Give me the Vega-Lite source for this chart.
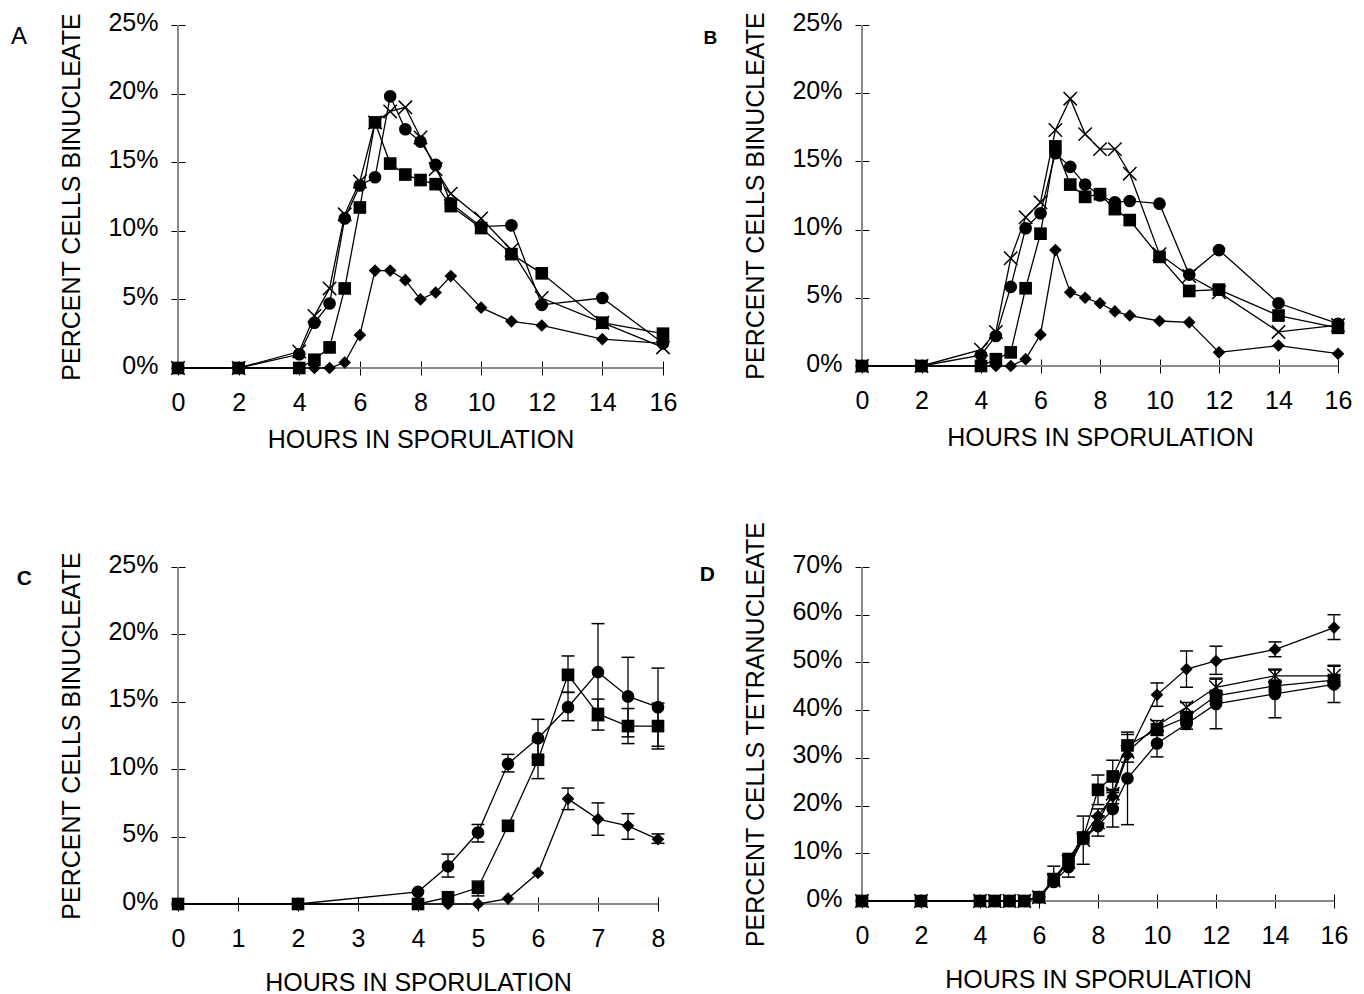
{
  "$schema": "https://vega.github.io/schema/vega-lite/v6.json",
  "padding": {"left": 10, "top": 10, "right": 5, "bottom": 5},
  "background": "white",
  "config": {
    "view": {"stroke": null},
    "font": "Liberation Sans",
    "axis": {"grid": false, "domain": false, "labelFont": "Liberation Sans", "titleFont": "Liberation Sans", "labelFontSize": 25, "titleFontSize": 25, "titleFontWeight": "normal", "labelColor": "black", "titleColor": "black", "tickColor": "black", "tickWidth": 1, "labelFlush": false, "labelOverlap": false},
    "title": {"font": "Liberation Sans", "color": "black"}
  },
  "data": {"values": [
    {"p":"A","s":"circle","t":0,"v":0},{"p":"A","s":"circle","t":2,"v":0},{"p":"A","s":"circle","t":4,"v":1.0},{"p":"A","s":"circle","t":4.5,"v":3.3},{"p":"A","s":"circle","t":5,"v":4.7},{"p":"A","s":"circle","t":5.5,"v":10.9},{"p":"A","s":"circle","t":6,"v":13.3},{"p":"A","s":"circle","t":6.5,"v":13.9},{"p":"A","s":"circle","t":7,"v":19.8},{"p":"A","s":"circle","t":7.5,"v":17.4},{"p":"A","s":"circle","t":8,"v":16.5},{"p":"A","s":"circle","t":8.5,"v":14.8},{"p":"A","s":"circle","t":9,"v":12.0},{"p":"A","s":"circle","t":10,"v":10.3},{"p":"A","s":"circle","t":11,"v":10.4},{"p":"A","s":"circle","t":12,"v":4.6},{"p":"A","s":"circle","t":14,"v":5.1},{"p":"A","s":"circle","t":16,"v":1.8},
    {"p":"A","s":"square","t":0,"v":0},{"p":"A","s":"square","t":2,"v":0},{"p":"A","s":"square","t":4,"v":0},{"p":"A","s":"square","t":4.5,"v":0.6},{"p":"A","s":"square","t":5,"v":1.5},{"p":"A","s":"square","t":5.5,"v":5.8},{"p":"A","s":"square","t":6,"v":11.7},{"p":"A","s":"square","t":6.5,"v":17.9},{"p":"A","s":"square","t":7,"v":14.9},{"p":"A","s":"square","t":7.5,"v":14.1},{"p":"A","s":"square","t":8,"v":13.7},{"p":"A","s":"square","t":8.5,"v":13.4},{"p":"A","s":"square","t":9,"v":11.8},{"p":"A","s":"square","t":10,"v":10.2},{"p":"A","s":"square","t":11,"v":8.3},{"p":"A","s":"square","t":12,"v":6.9},{"p":"A","s":"square","t":14,"v":3.3},{"p":"A","s":"square","t":16,"v":2.5},
    {"p":"A","s":"x","t":0,"v":0},{"p":"A","s":"x","t":2,"v":0},{"p":"A","s":"x","t":4,"v":1.2},{"p":"A","s":"x","t":4.5,"v":3.8},{"p":"A","s":"x","t":5,"v":5.8},{"p":"A","s":"x","t":5.5,"v":11.2},{"p":"A","s":"x","t":6,"v":13.6},{"p":"A","s":"x","t":6.5,"v":17.9},{"p":"A","s":"x","t":7,"v":18.7},{"p":"A","s":"x","t":7.5,"v":19.0},{"p":"A","s":"x","t":8,"v":16.8},{"p":"A","s":"x","t":8.5,"v":14.5},{"p":"A","s":"x","t":9,"v":12.7},{"p":"A","s":"x","t":10,"v":10.9},{"p":"A","s":"x","t":11,"v":8.6},{"p":"A","s":"x","t":12,"v":5.1},{"p":"A","s":"x","t":14,"v":3.3},{"p":"A","s":"x","t":16,"v":1.5},
    {"p":"A","s":"diamond","t":0,"v":0},{"p":"A","s":"diamond","t":2,"v":0},{"p":"A","s":"diamond","t":4,"v":0},{"p":"A","s":"diamond","t":4.5,"v":0},{"p":"A","s":"diamond","t":5,"v":0},{"p":"A","s":"diamond","t":5.5,"v":0.4},{"p":"A","s":"diamond","t":6,"v":2.4},{"p":"A","s":"diamond","t":6.5,"v":7.1},{"p":"A","s":"diamond","t":7,"v":7.1},{"p":"A","s":"diamond","t":7.5,"v":6.4},{"p":"A","s":"diamond","t":8,"v":5.0},{"p":"A","s":"diamond","t":8.5,"v":5.5},{"p":"A","s":"diamond","t":9,"v":6.7},{"p":"A","s":"diamond","t":10,"v":4.4},{"p":"A","s":"diamond","t":11,"v":3.4},{"p":"A","s":"diamond","t":12,"v":3.1},{"p":"A","s":"diamond","t":14,"v":2.1},{"p":"A","s":"diamond","t":16,"v":1.8},

    {"p":"B","s":"circle","t":0,"v":0},{"p":"B","s":"circle","t":2,"v":0},{"p":"B","s":"circle","t":4,"v":0.8},{"p":"B","s":"circle","t":4.5,"v":2.2},{"p":"B","s":"circle","t":5,"v":5.8},{"p":"B","s":"circle","t":5.5,"v":10.1},{"p":"B","s":"circle","t":6,"v":11.2},{"p":"B","s":"circle","t":6.5,"v":15.6},{"p":"B","s":"circle","t":7,"v":14.6},{"p":"B","s":"circle","t":7.5,"v":13.3},{"p":"B","s":"circle","t":8,"v":12.5},{"p":"B","s":"circle","t":8.5,"v":12.0},{"p":"B","s":"circle","t":9,"v":12.1},{"p":"B","s":"circle","t":10,"v":11.9},{"p":"B","s":"circle","t":11,"v":6.7},{"p":"B","s":"circle","t":12,"v":8.5},{"p":"B","s":"circle","t":14,"v":4.6},{"p":"B","s":"circle","t":16,"v":3.1},
    {"p":"B","s":"square","t":0,"v":0},{"p":"B","s":"square","t":2,"v":0},{"p":"B","s":"square","t":4,"v":0},{"p":"B","s":"square","t":4.5,"v":0.5},{"p":"B","s":"square","t":5,"v":1.0},{"p":"B","s":"square","t":5.5,"v":5.7},{"p":"B","s":"square","t":6,"v":9.7},{"p":"B","s":"square","t":6.5,"v":16.1},{"p":"B","s":"square","t":7,"v":13.3},{"p":"B","s":"square","t":7.5,"v":12.4},{"p":"B","s":"square","t":8,"v":12.6},{"p":"B","s":"square","t":8.5,"v":11.5},{"p":"B","s":"square","t":9,"v":10.7},{"p":"B","s":"square","t":10,"v":8.0},{"p":"B","s":"square","t":11,"v":5.5},{"p":"B","s":"square","t":12,"v":5.6},{"p":"B","s":"square","t":14,"v":3.7},{"p":"B","s":"square","t":16,"v":2.8},
    {"p":"B","s":"x","t":0,"v":0},{"p":"B","s":"x","t":2,"v":0},{"p":"B","s":"x","t":4,"v":1.2},{"p":"B","s":"x","t":4.5,"v":2.5},{"p":"B","s":"x","t":5,"v":7.9},{"p":"B","s":"x","t":5.5,"v":10.9},{"p":"B","s":"x","t":6,"v":12.0},{"p":"B","s":"x","t":6.5,"v":17.3},{"p":"B","s":"x","t":7,"v":19.6},{"p":"B","s":"x","t":7.5,"v":17.0},{"p":"B","s":"x","t":8,"v":15.9},{"p":"B","s":"x","t":8.5,"v":15.9},{"p":"B","s":"x","t":9,"v":14.1},{"p":"B","s":"x","t":10,"v":8.2},{"p":"B","s":"x","t":11,"v":6.6},{"p":"B","s":"x","t":12,"v":5.4},{"p":"B","s":"x","t":14,"v":2.5},{"p":"B","s":"x","t":16,"v":3.0},
    {"p":"B","s":"diamond","t":0,"v":0},{"p":"B","s":"diamond","t":2,"v":0},{"p":"B","s":"diamond","t":4,"v":0},{"p":"B","s":"diamond","t":4.5,"v":0},{"p":"B","s":"diamond","t":5,"v":0},{"p":"B","s":"diamond","t":5.5,"v":0.5},{"p":"B","s":"diamond","t":6,"v":2.3},{"p":"B","s":"diamond","t":6.5,"v":8.5},{"p":"B","s":"diamond","t":7,"v":5.4},{"p":"B","s":"diamond","t":7.5,"v":5.0},{"p":"B","s":"diamond","t":8,"v":4.6},{"p":"B","s":"diamond","t":8.5,"v":4.0},{"p":"B","s":"diamond","t":9,"v":3.7},{"p":"B","s":"diamond","t":10,"v":3.3},{"p":"B","s":"diamond","t":11,"v":3.2},{"p":"B","s":"diamond","t":12,"v":1.0},{"p":"B","s":"diamond","t":14,"v":1.5},{"p":"B","s":"diamond","t":16,"v":0.9},

    {"p":"C","s":"circle","t":0,"v":0},{"p":"C","s":"circle","t":2,"v":0},{"p":"C","s":"circle","t":4,"v":0.9},{"p":"C","s":"circle","t":4.5,"v":2.8,"lo":2.0,"hi":3.7},{"p":"C","s":"circle","t":5,"v":5.3,"lo":4.6,"hi":5.9},{"p":"C","s":"circle","t":5.5,"v":10.4,"lo":9.8,"hi":11.1},{"p":"C","s":"circle","t":6,"v":12.3,"lo":10.9,"hi":13.7},{"p":"C","s":"circle","t":6.5,"v":14.6,"lo":13.6,"hi":15.7},{"p":"C","s":"circle","t":7,"v":17.2,"lo":13.6,"hi":20.8},{"p":"C","s":"circle","t":7.5,"v":15.4,"lo":12.4,"hi":18.3},{"p":"C","s":"circle","t":8,"v":14.6,"lo":11.7,"hi":17.5},
    {"p":"C","s":"square","t":0,"v":0},{"p":"C","s":"square","t":2,"v":0},{"p":"C","s":"square","t":4,"v":0},{"p":"C","s":"square","t":4.5,"v":0.5},{"p":"C","s":"square","t":5,"v":1.2,"lo":0.6,"hi":1.7},{"p":"C","s":"square","t":5.5,"v":5.8},{"p":"C","s":"square","t":6,"v":10.7,"lo":9.3,"hi":12.1},{"p":"C","s":"square","t":6.5,"v":17.0,"lo":15.7,"hi":18.4},{"p":"C","s":"square","t":7,"v":14.1,"lo":12.9,"hi":15.2},{"p":"C","s":"square","t":7.5,"v":13.2,"lo":11.9,"hi":14.5},{"p":"C","s":"square","t":8,"v":13.2,"lo":11.5,"hi":14.9},
    {"p":"C","s":"diamond","t":0,"v":0},{"p":"C","s":"diamond","t":2,"v":0},{"p":"C","s":"diamond","t":4,"v":0},{"p":"C","s":"diamond","t":4.5,"v":0},{"p":"C","s":"diamond","t":5,"v":0},{"p":"C","s":"diamond","t":5.5,"v":0.4},{"p":"C","s":"diamond","t":6,"v":2.3},{"p":"C","s":"diamond","t":6.5,"v":7.8,"lo":7.0,"hi":8.6},{"p":"C","s":"diamond","t":7,"v":6.3,"lo":5.1,"hi":7.5},{"p":"C","s":"diamond","t":7.5,"v":5.8,"lo":4.8,"hi":6.7},{"p":"C","s":"diamond","t":8,"v":4.8,"lo":4.5,"hi":5.2},

    {"p":"D","s":"circle","t":0,"v":0},{"p":"D","s":"circle","t":2,"v":0},{"p":"D","s":"circle","t":4,"v":0},{"p":"D","s":"circle","t":4.5,"v":0},{"p":"D","s":"circle","t":5,"v":0},{"p":"D","s":"circle","t":5.5,"v":0},{"p":"D","s":"circle","t":6,"v":0.8},{"p":"D","s":"circle","t":6.5,"v":4.0},{"p":"D","s":"circle","t":7,"v":7.1},{"p":"D","s":"circle","t":7.5,"v":13.0},{"p":"D","s":"circle","t":8,"v":15.7,"lo":13.6,"hi":17.8},{"p":"D","s":"circle","t":8.5,"v":19.3,"lo":15.5,"hi":23.1},{"p":"D","s":"circle","t":9,"v":25.7,"lo":16.0,"hi":35.4},{"p":"D","s":"circle","t":10,"v":33.0,"lo":30.2,"hi":35.8},{"p":"D","s":"circle","t":11,"v":37.1,"lo":36.0,"hi":38.3},{"p":"D","s":"circle","t":12,"v":41.3,"lo":36.1,"hi":46.5},{"p":"D","s":"circle","t":14,"v":43.4,"lo":38.4,"hi":48.4},{"p":"D","s":"circle","t":16,"v":45.4,"lo":41.6,"hi":49.2},
    {"p":"D","s":"square","t":0,"v":0},{"p":"D","s":"square","t":2,"v":0},{"p":"D","s":"square","t":4,"v":0},{"p":"D","s":"square","t":4.5,"v":0},{"p":"D","s":"square","t":5,"v":0},{"p":"D","s":"square","t":5.5,"v":0},{"p":"D","s":"square","t":6,"v":0.8},{"p":"D","s":"square","t":6.5,"v":4.6,"lo":3.4,"hi":7.3},{"p":"D","s":"square","t":7,"v":8.8},{"p":"D","s":"square","t":7.5,"v":13.3},{"p":"D","s":"square","t":8,"v":23.3,"lo":20.2,"hi":26.4},{"p":"D","s":"square","t":8.5,"v":26.1,"lo":22.7,"hi":29.5},{"p":"D","s":"square","t":9,"v":32.6,"lo":30.3,"hi":34.9},{"p":"D","s":"square","t":10,"v":35.9,"lo":34.7,"hi":37.1},{"p":"D","s":"square","t":11,"v":38.5,"lo":37.3,"hi":39.7},{"p":"D","s":"square","t":12,"v":43.0,"lo":42.0,"hi":44.0},{"p":"D","s":"square","t":14,"v":45.1,"lo":44.2,"hi":46.0},{"p":"D","s":"square","t":16,"v":46.3,"lo":45.4,"hi":47.2},
    {"p":"D","s":"x","t":0,"v":0},{"p":"D","s":"x","t":2,"v":0},{"p":"D","s":"x","t":4,"v":0},{"p":"D","s":"x","t":4.5,"v":0},{"p":"D","s":"x","t":5,"v":0},{"p":"D","s":"x","t":5.5,"v":0},{"p":"D","s":"x","t":6,"v":0.8},{"p":"D","s":"x","t":6.5,"v":4.3},{"p":"D","s":"x","t":7,"v":8.2,"lo":5.0,"hi":9.6},{"p":"D","s":"x","t":7.5,"v":12.8,"lo":7.7,"hi":17.8},{"p":"D","s":"x","t":8,"v":16.5},{"p":"D","s":"x","t":8.5,"v":22.5},{"p":"D","s":"x","t":9,"v":31.3},{"p":"D","s":"x","t":10,"v":36.8,"lo":35.8,"hi":37.8},{"p":"D","s":"x","t":11,"v":40.6,"lo":39.6,"hi":41.6},{"p":"D","s":"x","t":12,"v":44.8,"lo":43.5,"hi":46.7},{"p":"D","s":"x","t":14,"v":47.2,"lo":45.8,"hi":48.6},{"p":"D","s":"x","t":16,"v":47.2,"lo":45.0,"hi":49.4},
    {"p":"D","s":"diamond","t":0,"v":0},{"p":"D","s":"diamond","t":2,"v":0},{"p":"D","s":"diamond","t":4,"v":0},{"p":"D","s":"diamond","t":4.5,"v":0},{"p":"D","s":"diamond","t":5,"v":0},{"p":"D","s":"diamond","t":5.5,"v":0},{"p":"D","s":"diamond","t":6,"v":0.8},{"p":"D","s":"diamond","t":6.5,"v":4.4},{"p":"D","s":"diamond","t":7,"v":8.4},{"p":"D","s":"diamond","t":7.5,"v":13.6},{"p":"D","s":"diamond","t":8,"v":17.8,"lo":16.3,"hi":19.3},{"p":"D","s":"diamond","t":8.5,"v":21.9,"lo":20.4,"hi":23.4},{"p":"D","s":"diamond","t":9,"v":30.6,"lo":29.1,"hi":32.1},{"p":"D","s":"diamond","t":10,"v":43.2,"lo":40.8,"hi":45.7},{"p":"D","s":"diamond","t":11,"v":48.6,"lo":44.8,"hi":52.4},{"p":"D","s":"diamond","t":12,"v":50.3,"lo":47.5,"hi":53.4},{"p":"D","s":"diamond","t":14,"v":52.7,"lo":51.2,"hi":54.3},{"p":"D","s":"diamond","t":16,"v":57.3,"lo":54.8,"hi":60.0}
  ]},
  "columns": 2,
  "bounds": "flush",
  "align": "all",
  "spacing": {"row": 199, "column": 199},
  "concat": [
    {
      "width": 485, "height": 343,
      "title": {"text": "A", "orient": "left", "anchor": "end", "frame": "group", "angle": 0, "align": "right", "baseline": "top", "fontSize": 24, "fontWeight": "normal", "offset": 17, "dy": 0},
      "transform": [{"filter": "datum.p === 'A'"}],
      "layer": [
        {"mark": {"type": "rule", "color": "#888", "strokeWidth": 1}, "encoding": {"x": {"datum": 0, "type": "quantitative", "scale": {"domain": [0, 16], "nice": false}}}},
        {"mark": {"type": "rule", "color": "#888", "strokeWidth": 1}, "encoding": {"y": {"datum": 0, "type": "quantitative", "scale": {"domain": [0, 25], "nice": false}}}},
        {"mark": {"type": "line", "color": "black", "strokeWidth": 1.3},
         "encoding": {
           "x": {"field": "t", "type": "quantitative", "scale": {"domain": [0, 16], "nice": false}, "axis": {"title": "HOURS IN SPORULATION", "values": [0,2,4,6,8,10,12,14,16], "format": "d", "offset": -7, "tickSize": 14, "labelPadding": 15, "titlePadding": 12}},
           "y": {"field": "v", "type": "quantitative", "scale": {"domain": [0, 25], "nice": false}, "axis": {"title": "PERCENT CELLS BINUCLEATE", "values": [0,5,10,15,20,25], "labelExpr": "datum.value + '%'", "offset": -7, "tickSize": 14, "labelPadding": 13, "titlePadding": 23, "labelOffset": -3}},
           "detail": {"field": "s"}}},
        {"transform": [{"filter": "datum.s !== 'x'"}], "mark": {"type": "point", "filled": true, "color": "black", "opacity": 1, "size": 160},
         "encoding": {"x": {"field": "t", "type": "quantitative"}, "y": {"field": "v", "type": "quantitative"},
           "shape": {"field": "s", "scale": {"domain": ["circle", "square", "diamond"], "range": ["circle", "square", "diamond"]}, "legend": null}}},
        {"transform": [{"filter": "datum.s === 'x'"}], "mark": {"type": "point", "shape": "M-1,-1L1,1M-1,1L1,-1", "filled": false, "color": "black", "strokeWidth": 1.5, "size": 180, "opacity": 1},
         "encoding": {"x": {"field": "t", "type": "quantitative"}, "y": {"field": "v", "type": "quantitative"}}}
      ]
    },
    {
      "width": 476, "height": 341,
      "title": {"text": "B", "orient": "left", "anchor": "end", "frame": "group", "angle": 0, "align": "right", "baseline": "top", "fontSize": 19, "fontWeight": "bold", "offset": 13, "dy": 4},
      "transform": [{"filter": "datum.p === 'B'"}],
      "layer": [
        {"mark": {"type": "rule", "color": "#888", "strokeWidth": 1}, "encoding": {"x": {"datum": 0, "type": "quantitative", "scale": {"domain": [0, 16], "nice": false}}}},
        {"mark": {"type": "rule", "color": "#888", "strokeWidth": 1}, "encoding": {"y": {"datum": 0, "type": "quantitative", "scale": {"domain": [0, 25], "nice": false}}}},
        {"mark": {"type": "line", "color": "black", "strokeWidth": 1.3},
         "encoding": {
           "x": {"field": "t", "type": "quantitative", "scale": {"domain": [0, 16], "nice": false}, "axis": {"title": "HOURS IN SPORULATION", "values": [0,2,4,6,8,10,12,14,16], "format": "d", "offset": -7, "tickSize": 14, "labelPadding": 15, "titlePadding": 12}},
           "y": {"field": "v", "type": "quantitative", "scale": {"domain": [0, 25], "nice": false}, "axis": {"title": "PERCENT CELLS BINUCLEATE", "values": [0,5,10,15,20,25], "labelExpr": "datum.value + '%'", "offset": -7, "tickSize": 14, "labelPadding": 13, "titlePadding": 23, "labelOffset": -3}},
           "detail": {"field": "s"}}},
        {"transform": [{"filter": "datum.s !== 'x'"}], "mark": {"type": "point", "filled": true, "color": "black", "opacity": 1, "size": 160},
         "encoding": {"x": {"field": "t", "type": "quantitative"}, "y": {"field": "v", "type": "quantitative"},
           "shape": {"field": "s", "scale": {"domain": ["circle", "square", "diamond"], "range": ["circle", "square", "diamond"]}, "legend": null}}},
        {"transform": [{"filter": "datum.s === 'x'"}], "mark": {"type": "point", "shape": "M-1,-1L1,1M-1,1L1,-1", "filled": false, "color": "black", "strokeWidth": 1.5, "size": 180, "opacity": 1},
         "encoding": {"x": {"field": "t", "type": "quantitative"}, "y": {"field": "v", "type": "quantitative"}}}
      ]
    },
    {
      "width": 480, "height": 337,
      "title": {"text": "C", "orient": "left", "anchor": "end", "frame": "group", "angle": 0, "align": "right", "baseline": "top", "fontSize": 21, "fontWeight": "bold", "offset": 13, "dy": 1},
      "transform": [{"filter": "datum.p === 'C'"}],
      "layer": [
        {"mark": {"type": "rule", "color": "#888", "strokeWidth": 1}, "encoding": {"x": {"datum": 0, "type": "quantitative", "scale": {"domain": [0, 8], "nice": false}}}},
        {"mark": {"type": "rule", "color": "#888", "strokeWidth": 1}, "encoding": {"y": {"datum": 0, "type": "quantitative", "scale": {"domain": [0, 25], "nice": false}}}},
        {"mark": {"type": "line", "color": "black", "strokeWidth": 1.3},
         "encoding": {
           "x": {"field": "t", "type": "quantitative", "scale": {"domain": [0, 8], "nice": false}, "axis": {"title": "HOURS IN SPORULATION", "values": [0,1,2,3,4,5,6,7,8], "format": "d", "offset": -7, "tickSize": 14, "labelPadding": 15, "titlePadding": 19}},
           "y": {"field": "v", "type": "quantitative", "scale": {"domain": [0, 25], "nice": false}, "axis": {"title": "PERCENT CELLS BINUCLEATE", "values": [0,5,10,15,20,25], "labelExpr": "datum.value + '%'", "offset": -7, "tickSize": 14, "labelPadding": 13, "titlePadding": 23, "labelOffset": -3}},
           "detail": {"field": "s"}}},
        {"transform": [{"filter": "isValid(datum.lo)"}], "mark": {"type": "rule", "color": "black", "strokeWidth": 1.3},
         "encoding": {"x": {"field": "t", "type": "quantitative"}, "y": {"field": "lo", "type": "quantitative"}, "y2": {"field": "hi"}}},
        {"transform": [{"filter": "isValid(datum.lo)"}], "mark": {"type": "tick", "orient": "horizontal", "size": 13, "thickness": 1.5, "color": "black", "opacity": 1},
         "encoding": {"x": {"field": "t", "type": "quantitative"}, "y": {"field": "lo", "type": "quantitative"}}},
        {"transform": [{"filter": "isValid(datum.hi)"}], "mark": {"type": "tick", "orient": "horizontal", "size": 13, "thickness": 1.5, "color": "black", "opacity": 1},
         "encoding": {"x": {"field": "t", "type": "quantitative"}, "y": {"field": "hi", "type": "quantitative"}}},
        {"transform": [{"filter": "datum.s !== 'x'"}], "mark": {"type": "point", "filled": true, "color": "black", "opacity": 1, "size": 160},
         "encoding": {"x": {"field": "t", "type": "quantitative"}, "y": {"field": "v", "type": "quantitative"},
           "shape": {"field": "s", "scale": {"domain": ["circle", "square", "diamond"], "range": ["circle", "square", "diamond"]}, "legend": null}}}
      ]
    },
    {
      "width": 472, "height": 334,
      "title": {"text": "D", "orient": "left", "anchor": "end", "frame": "group", "angle": 0, "align": "right", "baseline": "top", "fontSize": 21, "fontWeight": "bold", "offset": 14, "dy": -3},
      "transform": [{"filter": "datum.p === 'D'"}],
      "layer": [
        {"mark": {"type": "rule", "color": "#888", "strokeWidth": 1}, "encoding": {"x": {"datum": 0, "type": "quantitative", "scale": {"domain": [0, 16], "nice": false}}}},
        {"mark": {"type": "rule", "color": "#888", "strokeWidth": 1}, "encoding": {"y": {"datum": 0, "type": "quantitative", "scale": {"domain": [0, 70], "nice": false}}}},
        {"mark": {"type": "line", "color": "black", "strokeWidth": 1.3},
         "encoding": {
           "x": {"field": "t", "type": "quantitative", "scale": {"domain": [0, 16], "nice": false}, "axis": {"title": "HOURS IN SPORULATION", "values": [0,2,4,6,8,10,12,14,16], "format": "d", "offset": -7, "tickSize": 14, "labelPadding": 15, "titlePadding": 19}},
           "y": {"field": "v", "type": "quantitative", "scale": {"domain": [0, 70], "nice": false}, "axis": {"title": "PERCENT CELLS TETRANUCLEATE", "values": [0,10,20,30,40,50,60,70], "labelExpr": "datum.value + '%'", "offset": -7, "tickSize": 14, "labelPadding": 13, "titlePadding": 23, "labelOffset": -3}},
           "detail": {"field": "s"}}},
        {"transform": [{"filter": "isValid(datum.lo)"}], "mark": {"type": "rule", "color": "black", "strokeWidth": 1.3},
         "encoding": {"x": {"field": "t", "type": "quantitative"}, "y": {"field": "lo", "type": "quantitative"}, "y2": {"field": "hi"}}},
        {"transform": [{"filter": "isValid(datum.lo)"}], "mark": {"type": "tick", "orient": "horizontal", "size": 13, "thickness": 1.5, "color": "black", "opacity": 1},
         "encoding": {"x": {"field": "t", "type": "quantitative"}, "y": {"field": "lo", "type": "quantitative"}}},
        {"transform": [{"filter": "isValid(datum.hi)"}], "mark": {"type": "tick", "orient": "horizontal", "size": 13, "thickness": 1.5, "color": "black", "opacity": 1},
         "encoding": {"x": {"field": "t", "type": "quantitative"}, "y": {"field": "hi", "type": "quantitative"}}},
        {"transform": [{"filter": "datum.s !== 'x'"}], "mark": {"type": "point", "filled": true, "color": "black", "opacity": 1, "size": 160},
         "encoding": {"x": {"field": "t", "type": "quantitative"}, "y": {"field": "v", "type": "quantitative"},
           "shape": {"field": "s", "scale": {"domain": ["circle", "square", "diamond"], "range": ["circle", "square", "diamond"]}, "legend": null}}},
        {"transform": [{"filter": "datum.s === 'x'"}], "mark": {"type": "point", "shape": "M-1,-1L1,1M-1,1L1,-1", "filled": false, "color": "black", "strokeWidth": 1.5, "size": 180, "opacity": 1},
         "encoding": {"x": {"field": "t", "type": "quantitative"}, "y": {"field": "v", "type": "quantitative"}}}
      ]
    }
  ]
}
